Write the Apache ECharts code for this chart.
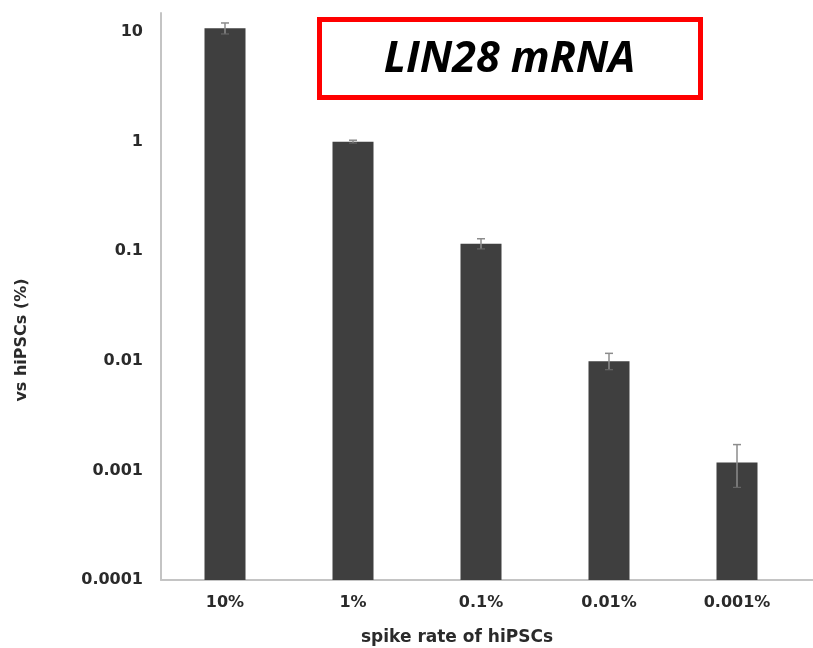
<!DOCTYPE html>
<html>
<head>
<meta charset="utf-8">
<script src="https://cdn.jsdelivr.net/npm/echarts@6/dist/echarts.min.js"></script>
<style>
  html, body { margin: 0; padding: 0; background: #fff; }
  #chart { width: 813px; height: 648px; }
</style>
</head>
<body>
<div id="chart"></div>
<script>
// Spike rates of hiPSCs (x categories)
const categories = ['10%', '1%', '0.1%', '0.01%', '0.001%'];
// Detected LIN28 mRNA relative to hiPSCs (%)
const means = [10.8, 1.0, 0.117, 0.0099, 0.00118];
const errLow = [9.6, 0.97, 0.105, 0.0083, 0.0007];
const errHigh = [12.1, 1.03, 0.13, 0.0117, 0.00172];
// Log-axis tick values
const yTicks = [0.0001, 0.001, 0.01, 0.1, 1, 10];

const chart = echarts.init(document.getElementById('chart'), null, { renderer: 'canvas' });

const labelFont = 'DejaVu Sans';
const axisGray = '#c4c4c4';
const textColor = '#2a2a2a';
const barHalf = 20.5;

const barData = categories.map((c, i) => [i, means[i]]);
const errData = categories.map((c, i) => [i, errLow[i], errHigh[i]]);

chart.setOption({
  animation: false,
  backgroundColor: '#ffffff',
  grid: { left: 161, right: 12, top: 13, bottom: 68, containLabel: false },
  xAxis: {
    type: 'category',
    data: categories,
    axisLine: { lineStyle: { color: axisGray, width: 2 } },
    axisTick: { show: false },
    axisLabel: { fontFamily: labelFont, fontWeight: 'bold', fontSize: 16, color: textColor, margin: 15 },
    splitLine: { show: false }
  },
  yAxis: {
    type: 'log',
    logBase: 10,
    min: yTicks[0],
    max: Math.pow(10, 1 + 19 / 109.4),
    axisLine: { show: true, lineStyle: { color: axisGray, width: 2 } },
    axisTick: { show: false },
    splitLine: { show: false },
    axisLabel: {
      fontFamily: labelFont, fontWeight: 'bold', fontSize: 16, color: textColor, margin: 18,
      formatter: function (v) {
        const hit = yTicks.find(t => Math.abs(Math.log10(t) - Math.log10(v)) < 1e-6);
        return hit === undefined ? '' : String(hit);
      }
    }
  },
  series: [
    {
      // bars rise from the bottom of the log axis
      type: 'custom',
      data: barData,
      z: 2,
      renderItem: function (params, api) {
        const x = api.value(0);
        const top = api.coord([x, api.value(1)]);
        const base = api.coord([x, yTicks[0]]);
        return {
          type: 'rect',
          shape: { x: top[0] - barHalf, y: top[1], width: barHalf * 2, height: base[1] - top[1] },
          style: { fill: '#3f3f3f' }
        };
      }
    },
    {
      type: 'custom',
      data: errData,
      z: 3,
      renderItem: function (params, api) {
        const x = api.value(0);
        const lo = api.coord([x, api.value(1)]);
        const hi = api.coord([x, api.value(2)]);
        const cap = 4;
        const style = { stroke: '#8c8c8c', lineWidth: 1.5 };
        return {
          type: 'group',
          children: [
            { type: 'line', shape: { x1: hi[0], y1: hi[1], x2: lo[0], y2: lo[1] }, style: style },
            { type: 'line', shape: { x1: hi[0] - cap, y1: hi[1], x2: hi[0] + cap, y2: hi[1] }, style: style },
            { type: 'line', shape: { x1: lo[0] - cap, y1: lo[1], x2: lo[0] + cap, y2: lo[1] }, style: { stroke: '#666', lineWidth: 1.2 } }
          ]
        };
      }
    }
  ],
  graphic: [
    {
      id: 'titleBox',
      type: 'group',
      left: 317,
      top: 17,
      children: [
        {
          type: 'rect',
          shape: { x: 0, y: 0, width: 381, height: 78 },
          style: { fill: '#ffffff', stroke: '#ff0000', lineWidth: 5 }
        },
        {
          type: 'text',
          x: 190,
          y: 40,
          style: {
            text: 'LIN28 mRNA',
            font: 'italic bold 43px "Open Sans"',
            fill: '#000',
            align: 'center',
            verticalAlign: 'middle'
          }
        }
      ]
    },
    {
      id: 'yName',
      type: 'text',
      x: 22,
      y: 340,
      rotation: Math.PI / 2,
      style: {
        text: 'vs hiPSCs (%)',
        font: 'bold 16px "DejaVu Sans"',
        fill: textColor,
        align: 'center',
        verticalAlign: 'middle'
      }
    },
    {
      id: 'xName',
      type: 'text',
      x: 457,
      y: 638,
      style: {
        text: 'spike rate of hiPSCs',
        font: 'bold 17px "DejaVu Sans"',
        fill: textColor,
        align: 'center',
        verticalAlign: 'middle'
      }
    }
  ]
});

// extend the baseline to the right edge of the page
const baseY = chart.convertToPixel({ yAxisIndex: 0 }, yTicks[0]);
const endX = chart.convertToPixel({ xAxisIndex: 0 }, categories[categories.length - 1]) + 64;
chart.setOption({
  graphic: [
    {
      id: 'baseExt',
      type: 'line',
      shape: { x1: endX, y1: baseY, x2: 813, y2: baseY },
      style: { stroke: axisGray, lineWidth: 2 }
    }
  ]
});
</script>
</body>
</html>
